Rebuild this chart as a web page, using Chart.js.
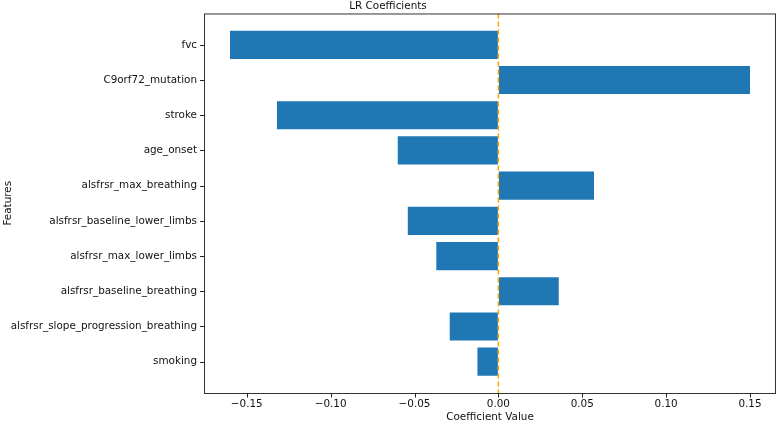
<!DOCTYPE html>
<html>
<head>
<meta charset="utf-8">
<script src="https://cdn.jsdelivr.net/npm/chart.js@4"></script>
<style>
  body { margin: 0; background: #fff; }
  #wrap { width: 778px; height: 422px; }
</style>
</head>
<body>
<div id="wrap"><canvas id="chart"></canvas></div>
<script>
const features = [
  "fvc",
  "C9orf72_mutation",
  "stroke",
  "age_onset",
  "alsfrsr_max_breathing",
  "alsfrsr_baseline_lower_limbs",
  "alsfrsr_max_lower_limbs",
  "alsfrsr_baseline_breathing",
  "alsfrsr_slope_progression_breathing",
  "smoking",
];
const coefs = [-0.160, 0.150, -0.132, -0.060, 0.057, -0.054, -0.037, 0.036, -0.029, -0.0125];
const xTicks = [-0.15, -0.10, -0.05, 0.0, 0.05, 0.10, 0.15];

const ctx = document.getElementById("chart");
const textColor = "#111";
const font = { family: "'DejaVu Sans', sans-serif", size: 10.4 };

// frame, tick marks and the dashed line at zero
const framePlugin = {
  id: "frame",
  afterDraw(chart) {
    const c = chart.ctx;
    const a = chart.chartArea;
    const xs = chart.scales.x;
    const ys = chart.scales.y;
    const x0 = xs.getPixelForValue(0);
    c.save();
    c.strokeStyle = "#FFA500";
    c.lineWidth = 1.5;
    c.setLineDash([5, 3]);
    c.beginPath();
    c.moveTo(x0, a.top);
    c.lineTo(x0, a.bottom);
    c.stroke();
    c.setLineDash([]);
    c.strokeStyle = "#333";
    c.lineWidth = 1;
    c.strokeRect(a.left + 0.5, a.top + 0.5, a.right - a.left - 1, a.bottom - a.top);
    c.strokeStyle = "#222";
    c.beginPath();
    xTicks.forEach((v) => {
      const px = Math.round(xs.getPixelForValue(v)) + 0.5;
      c.moveTo(px, a.bottom);
      c.lineTo(px, a.bottom + 4.5);
    });
    features.forEach((f, i) => {
      const py = Math.round(ys.getPixelForValue(i)) + 0.5;
      c.moveTo(a.left + 1, py);
      c.lineTo(a.left - 4, py);
    });
    c.stroke();
    c.restore();
  },
};

const axisGrid = {
  display: true,
  offset: false,
  drawOnChartArea: false,
  drawTicks: true,
  tickLength: 4,
  color: "rgba(0,0,0,0)",
};

new Chart(ctx, {
  type: "bar",
  data: {
    datasets: [
      {
        data: coefs.map((v, i) => ({ x: v, y: i })),
        backgroundColor: "#1f77b4",
        barPercentage: 0.8,
        categoryPercentage: 1,
      },
    ],
  },
  options: {
    indexAxis: "y",
    responsive: true,
    maintainAspectRatio: false,
    animation: false,
    layout: { padding: { top: 0, left: 0, right: 2, bottom: 0 } },
    scales: {
      x: {
        type: "linear",
        min: -0.1755,
        max: 0.1655,
        afterBuildTicks: (axis) => {
          axis.ticks = xTicks.map((v) => ({ value: v }));
        },
        afterFit: (scale) => {
          scale.height = 29;
        },
        grid: axisGrid,
        border: { display: false },
        ticks: {
          color: textColor,
          font: font,
          padding: 1,
          maxRotation: 0,
          callback: (v) => (v < 0 ? "\u2212" + Math.abs(v).toFixed(2) : v.toFixed(2)),
        },
        title: {
          display: true,
          text: "Coefficient Value",
          color: textColor,
          font: font,
          padding: { top: 0, bottom: -2 },
        },
      },
      y: {
        type: "linear",
        reverse: true,
        offset: false,
        min: -0.89,
        max: 9.89,
        afterBuildTicks: (axis) => {
          axis.ticks = features.map((f, i) => ({ value: i }));
        },
        afterFit: (scale) => {
          scale.width = 204;
        },
        grid: axisGrid,
        border: { display: false },
        ticks: {
          color: textColor,
          font: font,
          padding: 3,
          callback: (v) => features[v],
        },
        title: {
          display: true,
          text: "Features",
          color: textColor,
          font: font,
          padding: { top: 2, bottom: 0 },
        },
      },
    },
    plugins: {
      legend: { display: false },
      tooltip: { enabled: false },
      title: {
        display: true,
        text: "LR Coefficients",
        color: textColor,
        font: { family: "'DejaVu Sans', sans-serif", size: 10.4, weight: "normal" },
        padding: { top: 0, bottom: 1 },
      },
    },
  },
  plugins: [framePlugin],
});
</script>
</body>
</html>
